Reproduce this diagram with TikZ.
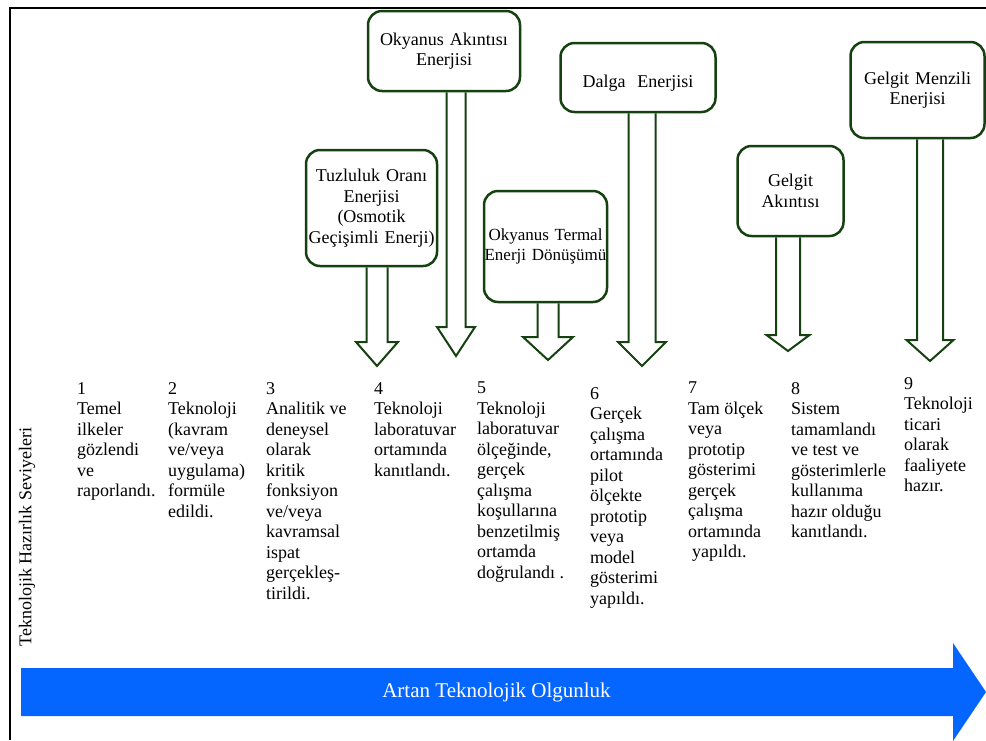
\documentclass[tikz,border=0pt]{standalone}
\usepackage{fontspec}
\setmainfont{Liberation Serif}
\usetikzlibrary{calc}
\definecolor{boxgreen}{RGB}{20,65,15}
\definecolor{olgunblue}{RGB}{5,102,255}

% hollow block arrow: box, tip, shaft half width, head half width, head length
\newcommand{\hollowarrow}[5]{%
\draw[arrowline] ($(#1.south -| #2)+(-#3,0)$) -- ($(#2)+(-#3,-#5)$) -- ($(#2)+(-#4,-#5)$) -- (#2)
  -- ($(#2)+(#4,-#5)$) -- ($(#2)+(#3,-#5)$) -- ($(#1.south -| #2)+(#3,0)$);}

\begin{document}
\begin{tikzpicture}[x=1pt,y=-1pt,font=\fontsize{18}{20.5}\selectfont,
  energybox/.style={draw=boxgreen,line width=2.5pt,rounded corners=14pt,inner sep=0pt,align=center},
  arrowline/.style={boxgreen,line width=2pt},
  trlcol/.style={anchor=north west,inner sep=0pt,align=left}]
\useasboundingbox (0,0) rectangle (986,740);
%frame
\draw[line width=2pt] (986,8) -- (9.5,8) -- (9.5,740);

%energy types
\node[energybox,text width=152pt,minimum height=80pt] (akinti) at (444,51) {Okyanus Akıntısı\\ Enerjisi};
\node[energybox,text width=131pt,minimum height=116pt] (tuzluluk) at (371.5,208) {Tuzluluk Oranı\\ Enerjisi\\ (Osmotik\\ Geçişimli Enerji)};
\node[energybox,text width=123pt,minimum height=111pt,font=\fontsize{17}{20}\selectfont] (termal) at (545.5,246.5) {Okyanus Termal\\ Enerji Dönüşümü};
\node[energybox,text width=155pt,minimum height=69pt,text height=23.3pt] (dalga) at (638,77.5) {Dalga\ \ Enerjisi};
\node[energybox,text width=106pt,minimum height=90pt,text depth=21pt] (gelgitak) at (790.5,191) {Gelgit\\ Akıntısı};
\node[energybox,text width=134pt,minimum height=96pt] (menzil) at (917.5,90) {Gelgit Menzili\\ Enerjisi};

\coordinate (akintiTip) at (456,356);
\coordinate (tuzlulukTip) at (377,366);
\coordinate (termalTip) at (548,360);
\coordinate (dalgaTip) at (642,366);
\coordinate (gelgitakTip) at (788,351);
\coordinate (menzilTip) at (930,361);
\hollowarrow{akinti}{akintiTip}{9.5}{19}{29}
\hollowarrow{tuzluluk}{tuzlulukTip}{10.5}{21}{24}
\hollowarrow{termal}{termalTip}{10.5}{25}{23}
\hollowarrow{dalga}{dalgaTip}{13.5}{24}{24}
\hollowarrow{gelgitak}{gelgitakTip}{12}{21.5}{16}
\hollowarrow{menzil}{menzilTip}{13}{23.5}{21}

%readiness levels
\node[trlcol] (trl1) at (77,382) {1\\ Temel\\ ilkeler\\ gözlendi\\ ve\\ raporlandı.};
\node[trlcol] (trl2) at (168,382) {2\\ Teknoloji\\ (kavram\\ ve/veya\\ uygulama)\\ formüle\\ edildi.};
\node[trlcol] (trl3) at (266,382) {3\\ Analitik ve\\ deneysel\\ olarak\\ kritik\\ fonksiyon\\ ve/veya\\ kavramsal\\ ispat\\ gerçekleş-\\ tirildi.};
\node[trlcol] (trl4) at (374,382) {4\\ Teknoloji\\ laboratuvar\\ ortamında\\ kanıtlandı.};
\node[trlcol] (trl5) at (477,382) {5\\ Teknoloji\\ laboratuvar\\ ölçeğinde,\\ gerçek\\ çalışma\\ koşullarına\\ benzetilmiş\\ ortamda\\ doğrulandı .};
\node[trlcol] (trl6) at (590,387) {6\\ Gerçek\\ çalışma\\ ortamında\\ pilot\\ ölçekte\\ prototip\\ veya\\ model\\ gösterimi\\ yapıldı.};
\node[trlcol] (trl7) at (688,382) {7\\ Tam ölçek\\ veya\\ prototip\\ gösterimi\\ gerçek\\ çalışma\\ ortamında\\ \hspace*{4pt}yapıldı.};
\node[trlcol] (trl8) at (791,382) {8\\ Sistem\\ tamamlandı\\ ve test ve\\ gösterimlerle\\ kullanıma\\ hazır olduğu\\ kanıtlandı.};
\node[trlcol] (trl9) at (904,377) {9\\ Teknoloji\\ ticari\\ olarak\\ faaliyete\\ hazır.};

\node[rotate=90] (seviye) at (27,537) {Teknolojik Hazırlık Seviyeleri};

%baseline arrow
\fill[olgunblue] (21,668) -- (953,668) -- (953,643) -- (986,692) -- (953,741) -- (953,716) -- (21,716) -- cycle;
\node[white,font=\fontsize{21}{25}\selectfont] (olgun) at (496.5,692) {Artan Teknolojik Olgunluk};
\end{tikzpicture}
\end{document}
